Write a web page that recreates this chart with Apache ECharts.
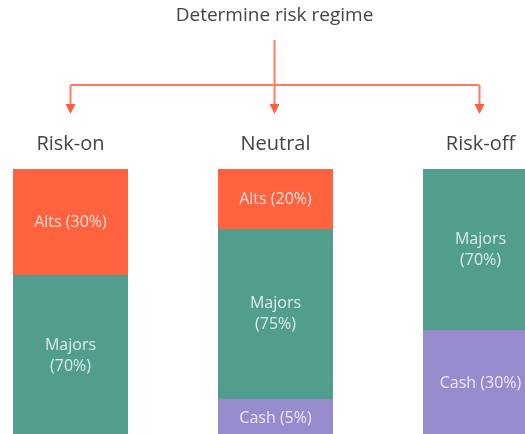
<!DOCTYPE html>
<html>
<head>
<meta charset="utf-8">
<title>Risk regime</title>
<script src="https://cdn.jsdelivr.net/npm/echarts@6/dist/echarts.min.js"></script>
</head>
<body style="margin:0;background:#fff">
<div id="main" style="width:525px;height:434px;"></div>
<script type="text/javascript">
var regimes = ['Risk-on', 'Neutral', 'Risk-off'];
// allocation per regime in %, used for the labels
var altsPct = [30, 20, 0];
var majorsPct = [70, 75, 70];
var cashPct = [0, 5, 30];
// block heights as drawn in the diagram (not to scale with the %)
var altsSize = [106, 60, 0];
var majorsSize = [162, 170, 161];
var cashSize = [0, 38, 107];

var font = 'Open Sans';
var lineColor = '#ff7b5e';
var headColor = '#ff5e3a';

function toData(arr) {
    return arr.map(function (v) { return v > 0 ? v : '-'; });
}

var myChart = echarts.init(document.getElementById('main'));

var labelStyle = {
    show: true,
    position: 'inside',
    color: 'rgba(255,255,255,0.8)',
    fontFamily: font,
    fontSize: 16,
    lineHeight: 21
};

option = {
    animation: false,
    grid: { left: -32, right: -58, top: 169, bottom: -3, outerBoundsMode: 'none' },
    xAxis: {
        type: 'category',
        position: 'top',
        data: regimes,
        axisLine: { show: false },
        axisTick: { show: false },
        axisLabel: { color: '#444', fontFamily: font, fontSize: 20, margin: 15 }
    },
    yAxis: {
        type: 'value',
        inverse: true,
        min: 0,
        max: 268,
        show: false,
        splitLine: { show: false }
    },
    series: [
        {
            name: 'Alts', type: 'bar', stack: 'a', barWidth: 115,
            data: toData(altsSize),
            itemStyle: { color: '#ff623f' },
            label: Object.assign({}, labelStyle, {
                formatter: function (p) { return 'Alts (' + altsPct[p.dataIndex] + '%)'; }
            })
        },
        {
            name: 'Majors', type: 'bar', stack: 'a', barWidth: 115,
            data: toData(majorsSize),
            itemStyle: { color: '#519e8f' },
            label: Object.assign({}, labelStyle, {
                formatter: function (p) { return 'Majors\n(' + majorsPct[p.dataIndex] + '%)'; }
            })
        },
        {
            name: 'Cash', type: 'bar', stack: 'a', barWidth: 115,
            data: toData(cashSize),
            itemStyle: { color: '#978bcd' },
            label: Object.assign({}, labelStyle, {
                formatter: function (p) { return 'Cash (' + cashPct[p.dataIndex] + '%)'; }
            })
        }
    ]
};
myChart.setOption(option);

// connector arrows from the root text down to each regime
var xs = regimes.map(function (r) { return myChart.convertToPixel({ xAxisIndex: 0 }, r); });
var mid = xs[1] - 1;
var right = xs[2] - 1;
var els = [
    {
        type: 'text', x: mid, y: 6,
        style: { text: 'Determine risk regime', fill: '#444', font: '19px "' + font + '"', align: 'center' }
    },
    { type: 'line', shape: { x1: mid, y1: 40, x2: mid, y2: 105 }, style: { stroke: lineColor, lineWidth: 2 } },
    { type: 'line', shape: { x1: xs[0], y1: 85, x2: right, y2: 85 }, style: { stroke: lineColor, lineWidth: 2 } },
    { type: 'line', shape: { x1: xs[0], y1: 85, x2: xs[0], y2: 105 }, style: { stroke: lineColor, lineWidth: 2 } },
    { type: 'line', shape: { x1: right, y1: 85, x2: right, y2: 105 }, style: { stroke: lineColor, lineWidth: 2 } }
];
[xs[0], mid, right].forEach(function (x) {
    els.push({ type: 'polygon', shape: { points: [[x - 5, 104], [x + 5, 104], [x, 114]] }, style: { fill: headColor } });
});
myChart.setOption({ graphic: els });
</script>
</body>
</html>
